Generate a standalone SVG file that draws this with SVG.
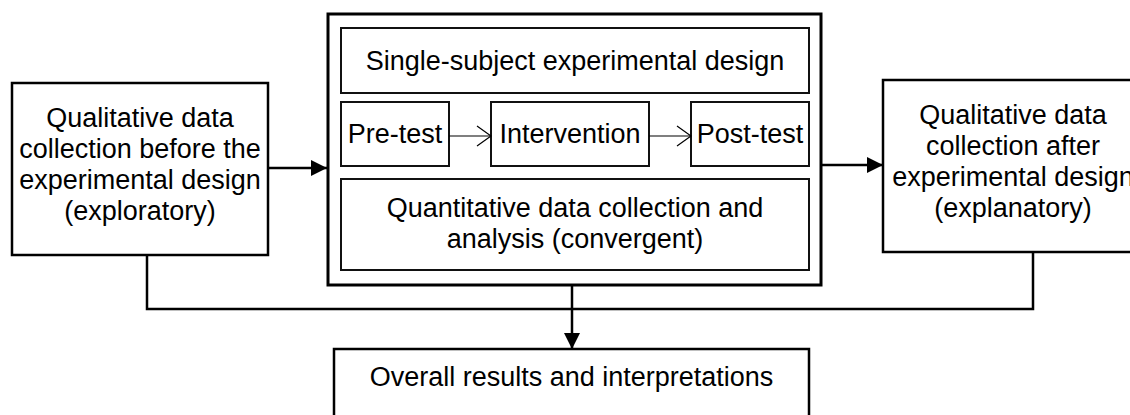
<svg xmlns="http://www.w3.org/2000/svg" width="1130" height="415" viewBox="0 0 1130 415">
  <style>
    .box { fill: #fff; stroke: #000; stroke-width: 2.5; }
    .outer { fill: none; stroke: #000; stroke-width: 3; }
    .inner { fill: #fff; stroke: #111; stroke-width: 2; }
    .t { font-family: "Liberation Sans", Arial, sans-serif; font-size: 27px; fill: #000; text-anchor: middle; }
    .conn { fill: none; stroke: #000; stroke-width: 2.5; }
    .thin { fill: none; stroke: #000; stroke-width: 1.2; }
  </style>
  <defs>
    <marker id="arrow" markerUnits="userSpaceOnUse" markerWidth="16" markerHeight="16" viewBox="0 0 16 16" refX="16" refY="8" orient="auto">
      <path d="M0,0 L16,8 L0,16 Z" fill="#000"/>
    </marker>
    <marker id="open" markerUnits="userSpaceOnUse" markerWidth="16" markerHeight="22" viewBox="0 0 16 22" refX="15" refY="11" orient="auto">
      <path d="M1,1 L15,11 L1,21" fill="none" stroke="#000" stroke-width="1.2"/>
    </marker>
  </defs>

  <g id="node-before">
    <rect class="box" x="12" y="83" width="256" height="172"/>
    <text class="t" x="140" y="127">Qualitative data</text>
    <text class="t" x="140" y="158">collection before the</text>
    <text class="t" x="140" y="189">experimental design</text>
    <text class="t" x="140" y="220">(exploratory)</text>
  </g>

  <g id="node-experimental">
    <rect class="outer" x="328" y="14" width="493" height="271"/>
  </g>

  <g id="node-single-subject">
    <rect class="inner" x="341" y="28" width="468" height="65"/>
    <text class="t" x="575" y="70">Single-subject experimental design</text>
  </g>

  <g id="node-pretest">
    <rect class="inner" x="341" y="102" width="108" height="64"/>
    <text class="t" x="395" y="143">Pre-test</text>
  </g>

  <g id="node-intervention">
    <rect class="inner" x="491" y="102" width="158" height="64"/>
    <text class="t" x="570" y="143">Intervention</text>
  </g>

  <g id="node-posttest">
    <rect class="inner" x="691" y="102" width="118" height="64"/>
    <text class="t" x="750" y="143">Post-test</text>
  </g>

  <g id="node-quantitative">
    <rect class="inner" x="341" y="179" width="468" height="91"/>
    <text class="t" x="575" y="217">Quantitative data collection and</text>
    <text class="t" x="575" y="248">analysis (convergent)</text>
  </g>

  <g id="node-after">
    <rect class="box" x="883" y="80" width="260" height="172"/>
    <text class="t" x="1013" y="124">Qualitative data</text>
    <text class="t" x="1013" y="155">collection after</text>
    <text class="t" x="1013" y="186">experimental design</text>
    <text class="t" x="1013" y="217">(explanatory)</text>
  </g>

  <g id="node-overall">
    <rect class="box" x="334" y="349" width="475" height="90"/>
    <text class="t" x="571.5" y="386">Overall results and interpretations</text>
  </g>

  <g id="connectors">
    <line class="conn" x1="268" y1="168" x2="327" y2="168" marker-end="url(#arrow)"/>
    <line class="conn" x1="821" y1="165" x2="883" y2="165" marker-end="url(#arrow)"/>
    <line class="thin" x1="449" y1="136" x2="491" y2="136" marker-end="url(#open)"/>
    <line class="thin" x1="649" y1="136" x2="691" y2="136" marker-end="url(#open)"/>
    <polyline class="conn" points="147,256 147,309 1033,309 1033,253"/>
    <line class="conn" x1="572" y1="286" x2="572" y2="349" marker-end="url(#arrow)"/>
  </g>
</svg>
